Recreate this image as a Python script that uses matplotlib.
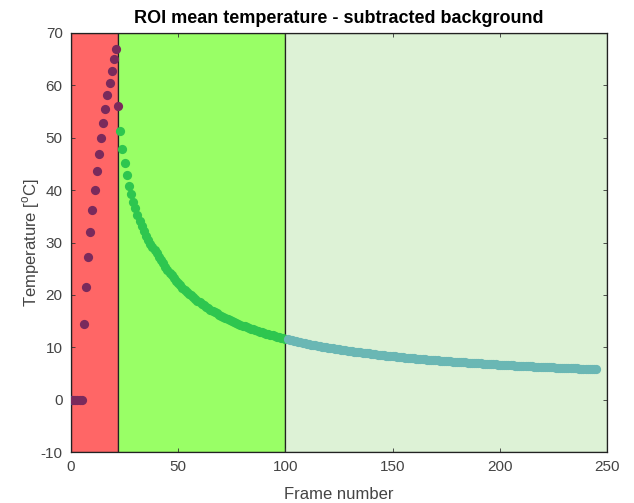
import matplotlib
matplotlib.use("Agg")
import matplotlib.pyplot as plt

plt.rcParams['font.family'] = ['Liberation Sans', 'DejaVu Sans']
plt.rcParams['mathtext.fontset'] = 'custom'
plt.rcParams['mathtext.rm'] = 'Liberation Sans'
plt.rcParams['axes.unicode_minus'] = False

# Phase boundaries (frames)
phase_edges = [0, 22, 100, 250]
phase_colors = ['#ff6666', '#99ff66', '#ddf2d6']

# Initial baseline point
start_frame = [0]
start_temp = [0.0]

# Heating phase
heat_frames = list(range(1, 23))
heat_temp = [0, 0, 0, 0, 0, 14.4, 21.5, 27.3, 32.1, 36.3, 40.1, 43.6, 46.9, 50.0,
             52.8, 55.5, 58.1, 60.5, 62.8, 65.0, 67.0, 56.0]

# Early cooling phase
cool_frames = list(range(23, 101))
cool_temp = [51.3, 47.8, 45.1, 42.9, 40.8, 39.2, 37.8, 36.5, 35.2, 34.1,
             33.1, 32.2, 31.3, 30.5, 29.8, 29.1, 28.5, 27.9, 27.2, 26.6,
             26.0, 25.4, 24.8, 24.2, 23.7, 23.2, 22.7, 22.3, 21.8, 21.4,
             21.0, 20.6, 20.2, 19.9, 19.5, 19.2, 18.9, 18.6, 18.3, 18.0,
             17.7, 17.5, 17.2, 16.95, 16.7, 16.5, 16.25, 16.0, 15.8, 15.6,
             15.4, 15.2, 15.0, 14.85, 14.7, 14.5, 14.3, 14.15, 14.0, 13.85,
             13.7, 13.55, 13.4, 13.25, 13.1, 13.0, 12.85, 12.75, 12.6, 12.5,
             12.35, 12.25, 12.15, 12.0, 11.9, 11.8, 11.7, 11.6]

# Late cooling phase
late_frames = list(range(101, 246))
late_temp = [11.5, 11.4, 11.31, 11.21, 11.12, 11.03, 10.94, 10.85, 10.77, 10.69,
             10.60, 10.52, 10.44, 10.37, 10.29, 10.22, 10.14, 10.07, 10.0, 9.93,
             9.86, 9.79, 9.73, 9.66, 9.60, 9.54, 9.48, 9.41, 9.35, 9.30,
             9.24, 9.18, 9.13, 9.07, 9.02, 8.96, 8.91, 8.86, 8.81, 8.76,
             8.71, 8.66, 8.61, 8.56, 8.51, 8.47, 8.42, 8.38, 8.33, 8.29,
             8.25, 8.20, 8.16, 8.12, 8.08, 8.04, 8.00, 7.96, 7.92, 7.88,
             7.85, 7.81, 7.77, 7.74, 7.70, 7.66, 7.63, 7.60, 7.56, 7.53,
             7.49, 7.46, 7.43, 7.40, 7.36, 7.33, 7.30, 7.27, 7.24, 7.21,
             7.18, 7.15, 7.12, 7.10, 7.07, 7.04, 7.01, 6.98, 6.96, 6.93,
             6.90, 6.88, 6.85, 6.83, 6.80, 6.77, 6.75, 6.73, 6.70, 6.68,
             6.65, 6.63, 6.61, 6.58, 6.56, 6.54, 6.51, 6.49, 6.47, 6.45,
             6.43, 6.41, 6.38, 6.36, 6.34, 6.32, 6.30, 6.28, 6.26, 6.24,
             6.22, 6.20, 6.18, 6.16, 6.15, 6.13, 6.11, 6.09, 6.07, 6.05,
             6.04, 6.02, 6.00, 5.98, 5.97, 5.95, 5.93, 5.91, 5.90, 5.88,
             5.86, 5.85, 5.83, 5.82, 5.80]

x_ticks = [0, 50, 100, 150, 200, 250]
y_ticks = [-10, 0, 10, 20, 30, 40, 50, 60, 70]

fig = plt.figure(figsize=(6.34, 5.03), dpi=100)
ax = fig.add_axes([71/634, 1-452/503, (607-71)/634, (452-33)/503])

for i in range(3):
    ax.axvspan(phase_edges[i], phase_edges[i+1], facecolor=phase_colors[i],
               edgecolor='#222222', linewidth=0.9, zorder=0)

ms = 44
ax.scatter(start_frame, start_temp, s=ms, color='#1f5fbf', zorder=3, linewidths=0)
ax.scatter(heat_frames, heat_temp, s=ms, color='#7a2a5c', zorder=3, linewidths=0)
ax.scatter(cool_frames, cool_temp, s=ms, color='#2ec64f', zorder=3, linewidths=0)
ax.scatter(late_frames, late_temp, s=ms, color='#6ab7b4', zorder=3, linewidths=0)

ax.set_xlim(0, 250)
ax.set_ylim(-10, 70)
ax.set_xticks(x_ticks)
ax.set_yticks(y_ticks)
ax.tick_params(direction='in', length=3, width=0.6, top=True, right=True,
               labelsize=11, labelcolor='#444444', color='#333333')
ax.tick_params(axis='x', pad=6)
ax.tick_params(axis='y', pad=6)
for sp in ax.spines.values():
    sp.set_linewidth(0.9)
    sp.set_color('#222222')

ax.set_title('ROI mean temperature - subtracted background', fontsize=13,
             fontweight='bold', pad=7)
ax.set_xlabel('Frame number', fontsize=12, color='#444444', labelpad=9)
ax.set_ylabel(r'Temperature [$^{\mathrm{o}}$C]', fontsize=12, color='#444444', labelpad=-1)

fig.savefig('out.png', dpi=100)
